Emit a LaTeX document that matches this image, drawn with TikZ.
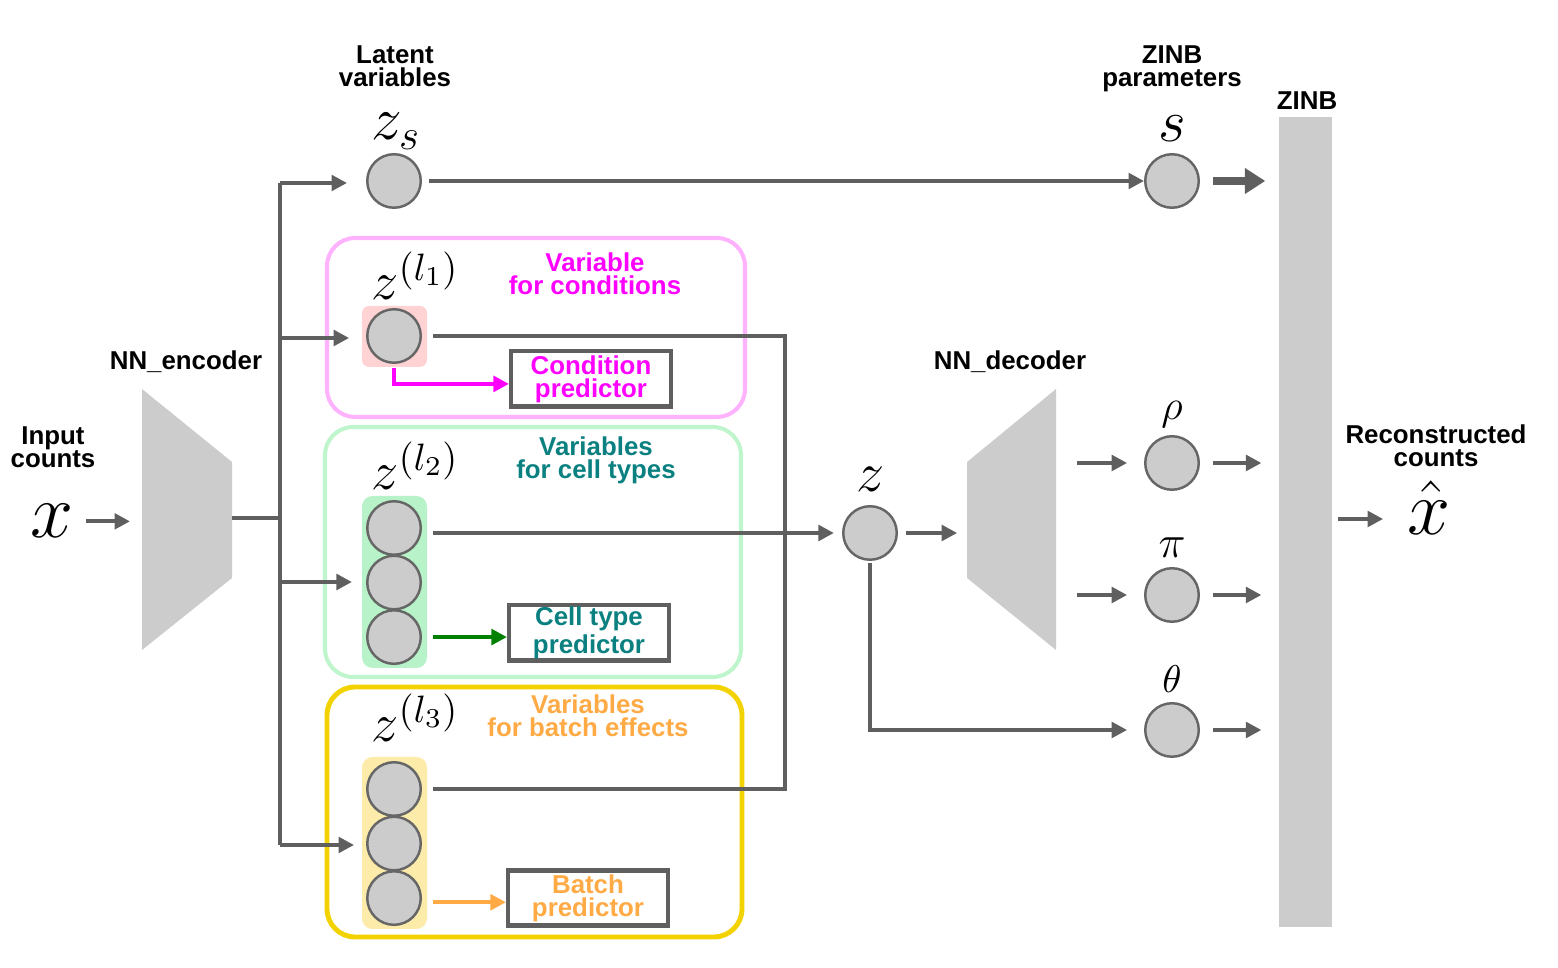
\RequirePackage{fix-cm}
\documentclass[tikz,border=0pt]{standalone}
\usepackage{amsmath}
\usepackage[no-math]{fontspec}
\setmainfont{Liberation Sans}
\usetikzlibrary{arrows.meta,positioning}
\pgfdeclarelayer{background layer}
\pgfsetlayers{background layer,main}
\definecolor{linegray}{HTML}{5F5F5F}
\definecolor{nodegray}{HTML}{CCCCCC}
\definecolor{rimgray}{HTML}{666666}
\definecolor{condline}{HTML}{FFB3FF}
\definecolor{condfill}{HTML}{FFD3D3}
\definecolor{cellline}{HTML}{BFF5CC}
\definecolor{cellfill}{HTML}{B8F2C8}
\definecolor{batchline}{HTML}{F2D200}
\definecolor{batchfill}{HTML}{FDEBAA}
\definecolor{condtext}{HTML}{FF00FF}
\definecolor{celltext}{HTML}{0A8080}
\definecolor{batchtext}{HTML}{FFAA44}
\definecolor{cellarrow}{HTML}{008000}
\begin{document}
\begin{tikzpicture}[x=0.01cm,y=-0.01cm,node distance=0.545cm]
\tikzstyle{unit}=[circle,draw=rimgray,fill=nodegray,line width=0.7pt,minimum size=0.535cm,inner sep=0pt]
\tikzstyle{link}=[draw=linegray,line width=1.15pt]
\tikzstyle{arrow}=[link,-{Triangle[length=4.4pt,width=4.4pt]}]
\tikzstyle{heading}=[font=\bfseries\fontsize{7.35}{6.6}\selectfont,align=center,inner sep=0pt,anchor=base]
\tikzstyle{symb}=[inner sep=0pt,anchor=base]
\tikzstyle{predictor}=[draw=linegray,line width=1.15pt,fill=white,minimum width=1.6cm,minimum height=0.55cm,inner sep=0pt,font=\bfseries\fontsize{7.35}{6.6}\selectfont,align=center]
\tikzstyle{groupbox}=[rounded corners=8pt,line width=1.15pt]
\useasboundingbox (0,0) rectangle (1558,968);
% headings
\node [heading] at (395,87) (hlatent) {Latent\\variables};
\node [heading] at (186,370) (henc) {NN\_encoder};
\node [heading] at (53,468) (hin) {Input\\counts};
\node [heading] at (1172,87) (hpar) {ZINB\\parameters};
\node [heading] at (1307,110) (hzinb) {ZINB};
\node [heading] at (1010,370) (hdec) {NN\_decoder};
\node [heading] at (1436,467) (hout) {Reconstructed\\counts};
\node [heading,text=condtext] at (595,295) (hcond) {Variable\\for conditions};
\node [heading,text=celltext] at (596,479) (hcell) {Variables\\for cell types};
\node [heading,text=batchtext] at (588,737) (hbatch) {Variables\\for batch effects};
% units
\node [unit] at (394,181) (zs) {};
\node [unit] at (1172,181) (s) {};
\node [unit] at (394,336) (c1) {};
\node [unit] at (394,528) (t1) {};
\node [unit,below of=t1] (t2) {};
\node [unit,below of=t2] (t3) {};
\node [unit] at (394,789) (b1) {};
\node [unit,below of=b1] (b2) {};
\node [unit,below of=b2] (b3) {};
\node [unit] at (870,533) (z) {};
\node [unit] at (1172,463) (rho) {};
\node [unit] at (1172,595) (pi) {};
\node [unit] at (1172,730) (theta) {};
% symbols
\node [symb] at (396,140) (lzs) {\fontsize{17.5}{19}\selectfont$z_s$};
\node [symb] at (1172,142) (ls) {\fontsize{17}{19}\selectfont$s$};
\node [symb,anchor=base west] at (371,300) (lc) {\fontsize{15.5}{17}\selectfont$z^{(l_1)}$};
\node [symb,anchor=base west] at (371,490) (lt) {\fontsize{15.5}{17}\selectfont$z^{(l_2)}$};
\node [symb,anchor=base west] at (371,742) (lb) {\fontsize{15.5}{17}\selectfont$z^{(l_3)}$};
\node [symb] at (871,492) (lz) {\fontsize{16}{18}\selectfont$z$};
\node [symb] at (1172,420) (lrho) {\fontsize{12}{14}\selectfont$\rho$};
\node [symb] at (1172,558) (lpi) {\fontsize{13}{15}\selectfont$\pi$};
\node [symb] at (1172,693) (ltheta) {\fontsize{11}{13}\selectfont$\theta$};
\node [symb,anchor=base west] at (30,538) (x) {\fontsize{22}{24}\selectfont$x$};
\node [symb,anchor=base west] at (1407,535) (xhat) {\fontsize{22}{24}\selectfont$\hat{x}$};
% predictors
\node [predictor,text=condtext] at (591,379) (cpred) {Condition\\predictor};
\node [predictor,text=celltext] at (589,633) (tpred) {Cell type\\predictor};
\node [predictor,text=batchtext] at (588,898) (bpred) {Batch\\predictor};
% encoder, decoder, ZINB
\fill [nodegray] (142,389) -- (232,462) -- (232,578) -- (142,650) -- cycle;
\fill [nodegray] (967,462) -- (1056,389) -- (1056,650) -- (967,578) -- cycle;
\node [fill=nodegray,minimum width=0.53cm,minimum height=8.1cm,inner sep=0pt] at (1305.5,522) (zinb) {};
\coordinate (encin) at (130,519);
\coordinate (encout) at (232,518);
\coordinate (decin) at (967,533);
\coordinate (dec1) at (1056,463);
\coordinate (dec2) at (1056,595);
\coordinate (tr) at (280,518);
\coordinate (trtop) at (280,183);
\coordinate (tr1) at (280,338);
\coordinate (tr2) at (280,582);
\coordinate (trbot) at (280,845);
\coordinate (bus) at (785,789);
\coordinate (zout) at (1332,519);
% connectors
\draw [arrow,shorten <=3.4pt] (x.east) -- (x.east -| encin);
\draw [link] (encout) -- (tr);
\draw [link] (trtop) -- (trbot);
\draw [arrow,shorten >=5.4pt] (trtop) -- (trtop -| zs.west);
\draw [arrow,shorten >=4.8pt] (tr1) -- (tr1 -| c1.west);
\draw [arrow,shorten >=4pt] (tr2) -- (tr2 -| t2.west);
\draw [arrow,shorten >=3.4pt] (trbot) -- (trbot -| b2.west);
\draw [arrow,shorten <=2pt] (zs.east) -- (s.west);
\draw [link,shorten <=3.1pt,shorten >=3.1pt] (c1.east) -| (bus) -- (b1.east);
\draw [arrow,shorten <=3.1pt,shorten >=2.3pt] (t1.east |- z) -- (z.west);
\draw [arrow,shorten <=2.3pt,shorten >=2.8pt] (z.east) -- (decin);
\draw [arrow,shorten <=0.6pt,shorten >=4.8pt] (z.south) |- (theta.west);
\draw [arrow,shorten <=6pt,shorten >=4.8pt] (dec1) -- (rho.west);
\draw [arrow,shorten <=6pt,shorten >=4.8pt] (dec2) -- (pi.west);
\draw [draw=linegray,line width=2pt,-{Triangle[length=5.8pt,width=7pt]},shorten <=3.7pt,shorten >=3.7pt] (s.east) -- (s.east -| zinb.west);
\draw [arrow,shorten <=3.7pt,shorten >=4.8pt] (rho.east) -- (rho.east -| zinb.west);
\draw [arrow,shorten <=3.7pt,shorten >=4.8pt] (pi.east) -- (pi.east -| zinb.west);
\draw [arrow,shorten <=3.7pt,shorten >=4.8pt] (theta.east) -- (theta.east -| zinb.west);
\draw [arrow,shorten <=1.7pt,shorten >=6.8pt] (zout) -- (zout -| xhat.west);
\draw [draw=condtext,line width=1.15pt,-{Triangle[length=4.4pt,width=4.4pt]},shorten <=1pt] (c1.south) |- ([yshift=-1.4pt]cpred.west);
\draw [draw=cellarrow,line width=1.15pt,-{Triangle[length=4.4pt,width=4.4pt]},shorten <=3.1pt] (t3.east) -- (t3.east -| tpred.west);
\draw [draw=batchtext,line width=1.15pt,-{Triangle[length=4.4pt,width=4.4pt]},shorten <=3.1pt] ([yshift=-1.2pt]b3.east) -- ([yshift=-1.2pt]b3.east -| bpred.west);
\begin{pgfonlayer}{background layer}
\draw [groupbox,condline] (327,238) rectangle (745,417);
\draw [groupbox,cellline] (325,427) rectangle (741,677);
\draw [groupbox,batchline,line width=1.4pt] (327,687) rectangle (742,937);
\fill [condfill,rounded corners=2pt] (362,306) rectangle (427,367);
\fill [cellfill,rounded corners=3pt] (362,496) rectangle (427,668);
\fill [batchfill,rounded corners=3pt] (362,757) rectangle (427,929);
\end{pgfonlayer}
\end{tikzpicture}
\end{document}
